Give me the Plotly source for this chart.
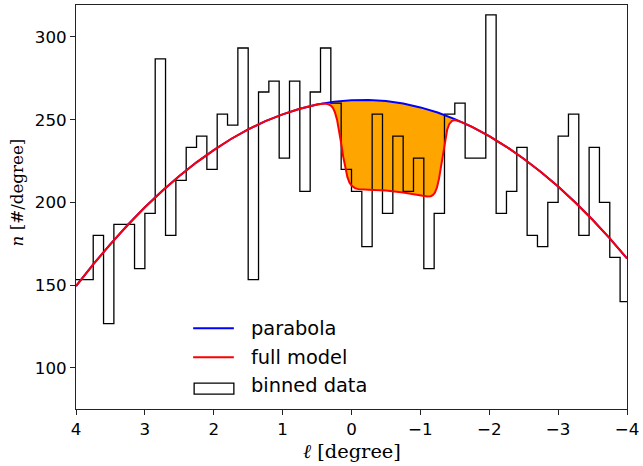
import numpy as np
import plotly.graph_objects as go

# ---------------- data ----------------
# histogram bin edges (degrees, from l = 4.05 down to l = -4.05, width 0.15)
bin_edges = list(np.round(np.linspace(4.05, -4.05, 55), 3))
# binned data, n [#/degree], one value per bin (left to right on the plot)
binned_n = [153.3, 153.3, 180.0, 126.7, 186.7, 186.7, 160.0, 193.3, 286.7, 180.0,
            213.3, 233.3, 240.0, 220.0, 253.3, 246.7, 293.3, 153.3, 266.7, 273.3,
            226.7, 273.3, 206.7, 266.7, 293.3, 260.0, 220.0, 206.7, 173.3, 253.3,
            193.3, 240.0, 206.7, 226.7, 160.0, 193.3, 253.3, 260.0, 226.7, 226.7,
            313.3, 193.3, 206.7, 233.3, 180.0, 173.3, 200.0, 240.0, 253.3, 180.0,
            233.3, 200.0, 166.7, 140.0]

# parabola curve (every 0.25 degree)
parabola_l = [4.0, 3.75, 3.5, 3.25, 3.0, 2.75, 2.5, 2.25, 2.0, 1.75, 1.5, 1.25, 1.0,
              0.75, 0.5, 0.25, 0.0, -0.25, -0.5, -0.75, -1.0, -1.25, -1.5, -1.75,
              -2.0, -2.25, -2.5, -2.75, -3.0, -3.25, -3.5, -3.75, -4.0]
parabola_n = [149.4, 162.5, 174.8, 186.3, 197.0, 206.9, 216.0, 224.2, 231.6, 238.3,
              244.1, 249.1, 253.2, 256.6, 259.2, 260.9, 261.8, 261.9, 261.3, 259.7,
              257.4, 254.3, 250.3, 245.6, 240.0, 233.6, 226.4, 218.4, 209.6, 199.9,
              189.5, 178.2, 166.1]

# full model curve (denser around the dip)
model_l = [4.0, 3.75, 3.5, 3.25, 3.0, 2.75, 2.5, 2.25, 2.0, 1.75, 1.5, 1.25, 1.0,
           0.75, 0.5, 0.45, 0.40, 0.35, 0.30, 0.27, 0.24, 0.21, 0.18, 0.15, 0.12,
           0.09, 0.06, 0.03, 0.0, -0.05, -0.10, -0.25, -0.5, -0.75, -1.0, -1.05,
           -1.10, -1.15, -1.18, -1.21, -1.24, -1.27, -1.30, -1.33, -1.36, -1.39,
           -1.42, -1.46, -1.50, -1.55, -1.60, -1.75, -2.0, -2.25, -2.5, -2.75,
           -3.0, -3.25, -3.5, -3.75, -4.0]
model_n = [149.4, 162.5, 174.8, 186.3, 197.0, 206.9, 216.0, 224.2, 231.6, 238.3,
           244.1, 249.1, 253.2, 256.6, 259.2, 259.5, 259.7, 259.5, 258.5, 257.1,
           254.4, 250.0, 243.7, 235.7, 227.5, 220.5, 215.4, 212.0, 210.2, 208.6,
           208.0, 207.7, 207.2, 206.0, 204.1, 203.8, 203.5, 203.7, 204.3, 205.8,
           208.9, 214.2, 221.8, 230.6, 238.6, 244.1, 247.4, 249.3, 249.7, 249.2,
           248.5, 245.6, 240.0, 233.6, 226.4, 218.4, 209.6, 199.9, 189.5, 178.2,
           166.1]

x_tick_vals = [4, 3, 2, 1, 0, -1, -2, -3, -4]
x_tick_text = ["4", "3", "2", "1", "0", "\u22121", "\u22122", "\u22123", "\u22124"]
y_tick_vals = [100, 150, 200, 250, 300]

legend_labels = ["parabola", "full model", "binned data"]

# ---------------- figure ----------------
fig = go.Figure()

# orange region between parabola and full model
fig.add_trace(go.Scatter(
    x=model_l + parabola_l[::-1], y=model_n + parabola_n[::-1],
    fill="toself", fillcolor="#ffa500", mode="lines",
    line=dict(width=0, color="#ffa500"), hoverinfo="skip", showlegend=False))

# binned data (step outline)
fig.add_trace(go.Scatter(
    x=bin_edges, y=binned_n + [binned_n[-1]], mode="lines", line_shape="hv",
    line=dict(color="black", width=1.3), name="binned data", showlegend=False))

fig.add_trace(go.Scatter(
    x=parabola_l, y=parabola_n, mode="lines",
    line=dict(color="#0000ff", width=2), name="parabola", showlegend=False))

fig.add_trace(go.Scatter(
    x=model_l, y=model_n, mode="lines",
    line=dict(color="#ff0000", width=2), name="full model", showlegend=False))

axis_common = dict(showline=True, mirror=True, linecolor="#222222", linewidth=1,
                   ticks="outside", ticklen=5, tickwidth=1, tickcolor="#222222",
                   showgrid=False, zeroline=False, ticklabeloverflow="allow",
                   tickfont=dict(family="DejaVu Sans", size=16.7, color="black"))

fig.update_xaxes(range=[4, -4], tickvals=x_tick_vals, ticktext=x_tick_text, **axis_common)
fig.update_yaxes(range=[75.1, 319.3], tickvals=y_tick_vals, **axis_common)

# legend drawn in paper coordinates
shapes = [
    dict(type="line", xref="paper", yref="paper", x0=0.2126, x1=0.2865, y0=0.1999, y1=0.1999,
         line=dict(color="#0000ff", width=2)),
    dict(type="line", xref="paper", yref="paper", x0=0.2126, x1=0.2865, y0=0.1283, y1=0.1283,
         line=dict(color="#ff0000", width=2)),
    dict(type="rect", xref="paper", yref="paper", x0=0.2144, x1=0.2865, y0=0.0370, y1=0.0642,
         line=dict(color="black", width=1.3), fillcolor="rgba(0,0,0,0)"),
]
annotations = []
for lab, yy in zip(legend_labels, [0.2001, 0.1285, 0.0577]):
    annotations.append(dict(text=lab, xref="paper", yref="paper", x=0.3145, y=yy,
                            xanchor="left", yanchor="middle", showarrow=False,
                            font=dict(family="DejaVu Sans", size=19.4, color="black")))

# axis titles
annotations.append(dict(text="<i>\u2113</i> [degree]", xref="paper", yref="paper",
                        x=0.5, y=-0.104, xanchor="center", yanchor="middle",
                        showarrow=False,
                        font=dict(family="DejaVu Serif", size=19.4, color="black")))
annotations.append(dict(text="<i>n</i> [#/degree]", xref="paper", yref="paper",
                        x=-0.1054, y=0.536, xanchor="center", yanchor="middle",
                        textangle=-90, showarrow=False,
                        font=dict(family="DejaVu Serif", size=16.7, color="black")))

fig.update_layout(
    width=643, height=466,
    margin=dict(l=76, r=12, t=4, b=57),
    paper_bgcolor="white", plot_bgcolor="white",
    showlegend=False,
    shapes=shapes, annotations=annotations,
)

fig.write_html("out.html")
